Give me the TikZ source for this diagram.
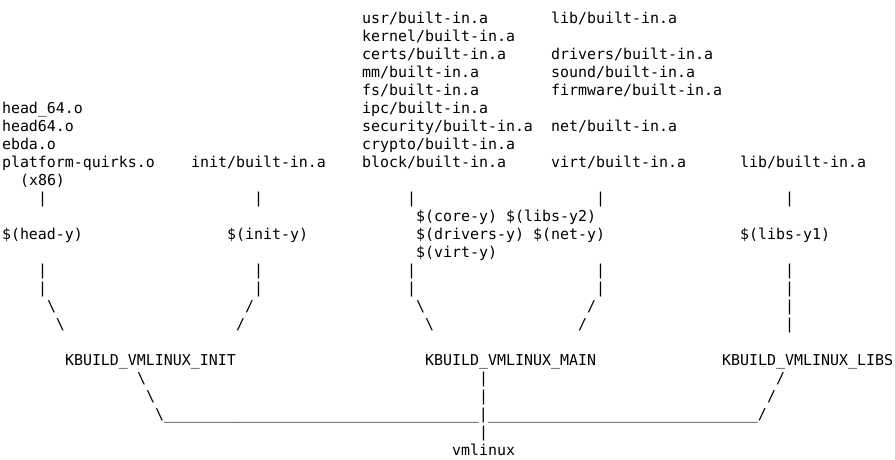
\documentclass[tikz,border=0pt]{standalone}
\usepackage{fontspec}
\newfontfamily\monofnt{DejaVu Sans Mono}
\tikzset{txt/.style={inner sep=0pt,outer sep=0pt,anchor=base west,text=black,
  font=\monofnt\fontsize{14.95}{18}\selectfont}}
\newcommand\putT[3]{\node[txt] (L#2C#1) at ({(2+9*#1)*1pt},{(-23.5-18*#2)*1pt}) {#3};}
\newcommand\usfive{\_\_\_\_\_}
\begin{document}
\begin{tikzpicture}
\fill[white] (0,0) rectangle (895pt,-460pt);
\useasboundingbox (0,0) rectangle (895pt,-460pt);
% line 0-8
\putT{40}{0}{usr/built-in.a}
\putT{61}{0}{lib/built-in.a}
\putT{40}{1}{kernel/built-in.a}
\putT{40}{2}{certs/built-in.a}
\putT{61}{2}{drivers/built-in.a}
\putT{40}{3}{mm/built-in.a}
\putT{61}{3}{sound/built-in.a}
\putT{40}{4}{fs/built-in.a}
\putT{61}{4}{firmware/built-in.a}
\putT{0}{5}{head\_64.o}
\putT{40}{5}{ipc/built-in.a}
\putT{0}{6}{head64.o}
\putT{40}{6}{security/built-in.a}
\putT{61}{6}{net/built-in.a}
\putT{0}{7}{ebda.o}
\putT{40}{7}{crypto/built-in.a}
\putT{0}{8}{platform-quirks.o}
\putT{21}{8}{init/built-in.a}
\putT{40}{8}{block/built-in.a}
\putT{61}{8}{virt/built-in.a}
\putT{82}{8}{lib/built-in.a}
\putT{2}{9}{(x86)}
% line 10
\putT{4}{10}{|}
\putT{28}{10}{|}
\putT{45}{10}{|}
\putT{66}{10}{|}
\putT{87}{10}{|}
% lines 11-13
\putT{46}{11}{\$(core-y)}
\putT{56}{11}{\$(libs-y2)}
\putT{0}{12}{\$(head-y)}
\putT{25}{12}{\$(init-y)}
\putT{46}{12}{\$(drivers-y)}
\putT{59}{12}{\$(net-y)}
\putT{82}{12}{\$(libs-y1)}
\putT{46}{13}{\$(virt-y)}
% lines 14-17
\putT{4}{14}{|}
\putT{28}{14}{|}
\putT{45}{14}{|}
\putT{66}{14}{|}
\putT{87}{14}{|}
\putT{4}{15}{|}
\putT{28}{15}{|}
\putT{45}{15}{|}
\putT{66}{15}{|}
\putT{87}{15}{|}
\putT{5}{16}{\textbackslash}
\putT{27}{16}{/}
\putT{46}{16}{\textbackslash}
\putT{65}{16}{/}
\putT{87}{16}{|}
\putT{6}{17}{\textbackslash}
\putT{26}{17}{/}
\putT{47}{17}{\textbackslash}
\putT{64}{17}{/}
\putT{87}{17}{|}
% line 19
\putT{7}{19}{KBUILD\_VMLINUX\_INIT}
\putT{47}{19}{KBUILD\_VMLINUX\_MAIN}
\putT{80}{19}{KBUILD\_VMLINUX\_LIBS}
% lines 20-24
\putT{15}{20}{\textbackslash}
\putT{53}{20}{|}
\putT{86}{20}{/}
\putT{16}{21}{\textbackslash}
\putT{53}{21}{|}
\putT{85}{21}{/}
\putT{17}{22}{\textbackslash\usfive\usfive\usfive\usfive\usfive\usfive\usfive|\usfive\usfive\usfive\usfive\usfive\usfive/}
\putT{53}{23}{|}
\putT{50}{24}{vmlinux}
\end{tikzpicture}
\end{document}
